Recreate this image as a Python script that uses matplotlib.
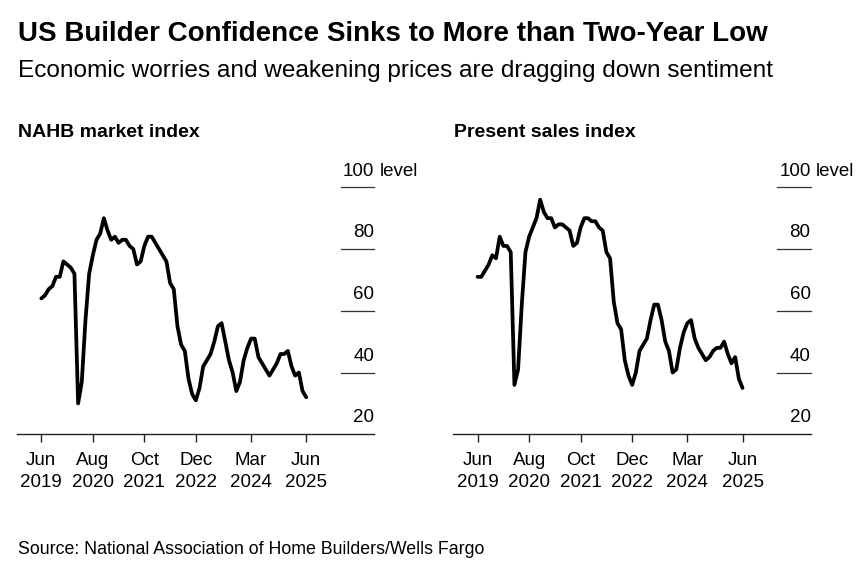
import matplotlib
matplotlib.use("Agg")
import matplotlib.pyplot as plt
import numpy as np

plt.rcParams['font.family'] = ['Liberation Sans', 'DejaVu Sans']

# Monthly data Jun 2019 .. Jun 2025
nahb_index = [64, 65, 67, 68, 71, 71, 76,
              75, 74, 72, 30, 37, 57, 72, 78, 83, 85, 90, 86,
              83, 84, 82, 83, 83, 81, 80, 75, 76, 81, 84, 84,
              82, 80, 78, 76, 69, 67, 55, 49, 47, 38, 33, 31,
              35, 42, 44, 46, 50, 55, 56, 50, 44, 40, 34, 37,
              44, 48, 51, 51, 45, 43, 41, 39, 41, 43, 46, 46,
              47, 42, 39, 40, 34, 32]
present_sales = [71, 71, 73, 75, 78, 77, 84,
                 81, 81, 79, 36, 41, 62, 79, 84, 87, 90, 96, 92,
                 90, 90, 87, 88, 88, 87, 86, 81, 82, 87, 90, 90,
                 89, 89, 87, 86, 79, 77, 63, 56, 54, 44, 39, 36,
                 40, 47, 49, 51, 57, 62, 62, 57, 50, 47, 40, 41,
                 48, 53, 56, 57, 51, 48, 46, 44, 45, 47, 48, 48,
                 50, 46, 43, 45, 38, 35]
months = np.arange(len(nahb_index))
tick_positions = [0, 14, 28, 42, 57, 72]
tick_labels = ["Jun\n2019", "Aug\n2020", "Oct\n2021", "Dec\n2022", "Mar\n2024", "Jun\n2025"]
y_levels = [20, 40, 60, 80, 100]
panel_titles = ["NAHB market index", "Present sales index"]

W, H = 865, 576
fig = plt.figure(figsize=(W / 100, H / 100), dpi=100)

title_font = ['Liberation Sans Narrow', 'Liberation Sans', 'DejaVu Sans']

def fx(px):
    return px / W

def fy(py):
    return 1 - py / H

fig.text(fx(18), fy(41), "US Builder Confidence Sinks to More than Two-Year Low",
         fontsize=20, fontweight='bold', family=title_font, va='baseline', ha='left')
fig.text(fx(18), fy(77), "Economic worries and weakening prices are dragging down sentiment",
         fontsize=17.6, va='baseline', ha='left')
fig.text(fx(18), fy(554), "Source: National Association of Home Builders/Wells Fargo",
         fontsize=12.8, va='baseline', ha='left')

axes_left_px = [17, 453.3]
ax_w_px = 357.3
ax_bottom_px = 434.3
ax_top_px = 187.3
series = [nahb_index, present_sales]

for i in range(2):
    ax = fig.add_axes([fx(axes_left_px[i]), fy(ax_bottom_px),
                       ax_w_px / W, (ax_bottom_px - ax_top_px) / H])
    ax.plot(months, series[i], color='black', lw=2.7, solid_joinstyle='round',
            solid_capstyle='round', clip_on=False)
    ax.set_xlim(-6.61, 90.5)
    ax.set_ylim(20, 100)
    for s in ['top', 'right', 'left']:
        ax.spines[s].set_visible(False)
    ax.spines['bottom'].set_linewidth(1.0)
    ax.spines['bottom'].set_color('#222222')
    ax.set_yticks([])
    ax.set_xticks(tick_positions)
    ax.set_xticklabels(tick_labels, fontsize=13.5, linespacing=1.38)
    ax.tick_params(axis='x', direction='out', length=5.5, width=1.0, color='#222222', pad=7.5)
    ytr = ax.get_yaxis_transform()
    for lv in y_levels:
        if lv > 20:
            ax.plot([0.906, 1.0], [lv, lv], transform=ytr, color='#333333', lw=0.9,
                    clip_on=False)
        off = 8.3 if lv == 100 else 8.6
        ax.annotate(str(lv), xy=(1.0, lv), xycoords=ytr, xytext=(0, off),
                    textcoords='offset points', ha='right', va='baseline', fontsize=13.5,
                    annotation_clip=False)
        if lv == 100:
            ax.annotate("level", xy=(1.0, lv), xycoords=ytr, xytext=(4.0, off),
                        textcoords='offset points', ha='left', va='baseline', fontsize=13.5,
                        annotation_clip=False)
    fig.text(fx(axes_left_px[i] + 1), fy(137), panel_titles[i], fontsize=14,
             fontweight='bold', family=title_font, va='baseline', ha='left')

fig.savefig("out.png", dpi=100)
